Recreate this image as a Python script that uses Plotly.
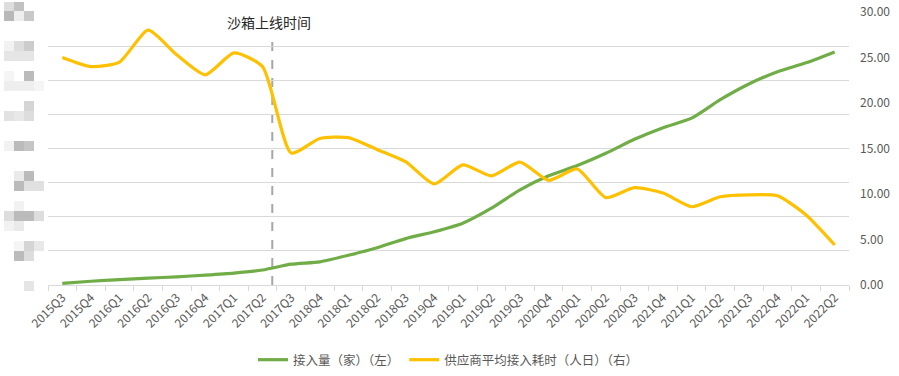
import plotly.graph_objects as go

categories = ["2015Q3", "2015Q4", "2016Q1", "2016Q2", "2016Q3", "2016Q4", "2017Q1", "2017Q2",
              "2017Q3", "2018Q4", "2018Q1", "2018Q2", "2018Q3", "2019Q4", "2019Q1", "2019Q2",
              "2019Q3", "2020Q4", "2020Q1", "2020Q2", "2020Q3", "2021Q4", "2021Q1", "2021Q2",
              "2021Q3", "2022Q4", "2022Q1", "2022Q2"]

access_count = [50, 110, 160, 200, 240, 290, 350, 440, 610, 680, 870, 1090, 1360, 1560,
                1810, 2250, 2790, 3200, 3500, 3860, 4270, 4610, 4890, 5430, 5890, 6250, 6510, 6830]

avg_days = [25.0, 24.0, 24.5, 28.0, 25.3, 23.1, 25.5, 24.0, 14.5, 16.1, 16.2, 14.9, 13.55, 11.1,
            13.2, 12.0, 13.5, 11.5, 12.75, 9.6, 10.7, 10.1, 8.6, 9.7, 9.9, 9.8, 7.7, 4.4]

name_left = "接入量（家）（左）"
name_right = "供应商平均接入耗时（人日）（右）"
marker_label = "沙箱上线时间"
marker_pos = 7.34
marker_top = 26.9

# decorative mosaic blocks covering the (censored) left axis labels: x0, y0 (px), colour
mosaic = [
    (4, 2, "#dddddd"), (14, 2, "#c2c2c2"),
    (4, 11, "#b8b8b8"), (14, 11, "#eeeeee"), (24, 11, "#c8c8c8"),
    (4, 41, "#f2f2f2"), (14, 41, "#dddddd"), (24, 41, "#cccccc"),
    (4, 51, "#e5e5e5"), (14, 51, "#e5e5e5"), (24, 51, "#e5e5e5"),
    (4, 71, "#f5f5f5"), (24, 71, "#bbbbbb"),
    (4, 81, "#eeeeee"), (14, 81, "#eeeeee"), (24, 81, "#eeeeee"), (34, 81, "#f5f5f5"),
    (24, 101, "#d5d5d5"),
    (4, 111, "#e2e2e2"), (14, 111, "#e8e8e8"), (24, 111, "#dddddd"),
    (4, 141, "#f2f2f2"), (14, 141, "#bbbbbb"), (24, 141, "#c5c5c5"),
    (14, 171, "#eaeaea"), (24, 171, "#bbbbbb"),
    (14, 181, "#bbbbbb"), (24, 181, "#e0e0e0"), (34, 181, "#e0e0e0"),
    (14, 201, "#f2f2f2"),
    (4, 211, "#dddddd"), (14, 211, "#bbbbbb"), (24, 211, "#bbbbbb"), (34, 211, "#dddddd"),
    (4, 221, "#f2f2f2"), (14, 221, "#eaeaea"),
    (14, 241, "#f5f5f5"), (24, 241, "#d5d5d5"), (34, 241, "#e8e8e8"),
    (14, 251, "#bbbbbb"), (24, 251, "#dddddd"),
    (24, 281, "#e5e5e5"),
]

W, H = 899, 376
ML, MR, MT, MB = 48, 50, 12, 91

font_family = "Microsoft YaHei, Noto Sans CJK SC, sans-serif"

fig = go.Figure()
fig.add_trace(go.Scatter(x=categories, y=access_count, name=name_left, mode="lines",
                         line=dict(color="#70ad47", width=3.2, shape="spline", smoothing=0.6),
                         yaxis="y"))
fig.add_trace(go.Scatter(x=categories, y=avg_days, name=name_right, mode="lines",
                         line=dict(color="#ffc000", width=3.2, shape="spline", smoothing=0.6),
                         yaxis="y2"))

shapes = [dict(type="line", xref="x", yref="y2", x0=marker_pos, x1=marker_pos, y0=0, y1=marker_top,
               line=dict(color="#a6a6a6", width=2, dash="dash"), layer="below")]
pw = W - ML - MR
ph = H - MT - MB
for (bx, by, col) in mosaic:
    shapes.append(dict(type="rect", xref="paper", yref="paper",
                       x0=(bx - ML) / pw, x1=(bx + 10 - ML) / pw,
                       y0=(H - MB - by - 10) / ph, y1=(H - MB - by) / ph,
                       fillcolor=col, line=dict(width=0), layer="above"))

fig.update_layout(
    width=W, height=H,
    margin=dict(l=ML, r=MR, t=MT, b=MB, autoexpand=False),
    paper_bgcolor="white", plot_bgcolor="white",
    font=dict(family=font_family, size=12, color="#595959"),
    showlegend=True,
    legend=dict(orientation="h", x=0.5, xanchor="center", y=-0.22, yanchor="top",
                font=dict(size=12.5, color="#595959"), itemwidth=30, tracegroupgap=0),
    xaxis=dict(type="category", range=[-0.5, 27.5], tickangle=-45, showgrid=False,
               showline=True, linecolor="#d9d9d9", linewidth=1, automargin=False,
               ticks="outside", ticklen=5, tickcolor="#d9d9d9", tickson="boundaries",
               tickfont=dict(size=12, color="#595959")),
    yaxis=dict(range=[0, 8000], dtick=1000, showgrid=True, gridcolor="#d9d9d9", gridwidth=1,
               showticklabels=False, zeroline=False, showline=False, automargin=False),
    yaxis2=dict(range=[0, 30], dtick=5, overlaying="y", side="right", showgrid=False,
                tickformat=".2f", zeroline=False, showline=False, automargin=False,
                ticklabelstandoff=10,
                tickfont=dict(size=12, color="#595959")),
    shapes=shapes,
    annotations=[dict(text=marker_label, xref="x", yref="paper", x=marker_pos - 0.1, y=(H - MB - 22) / ph,
                      showarrow=False, font=dict(size=14, color="#262626"), xanchor="center",
                      yanchor="middle")],
)

fig.write_html("out.html", config={"displayModeBar": False},
               post_script="document.body.style.margin='0';document.body.style.overflow='hidden';")
